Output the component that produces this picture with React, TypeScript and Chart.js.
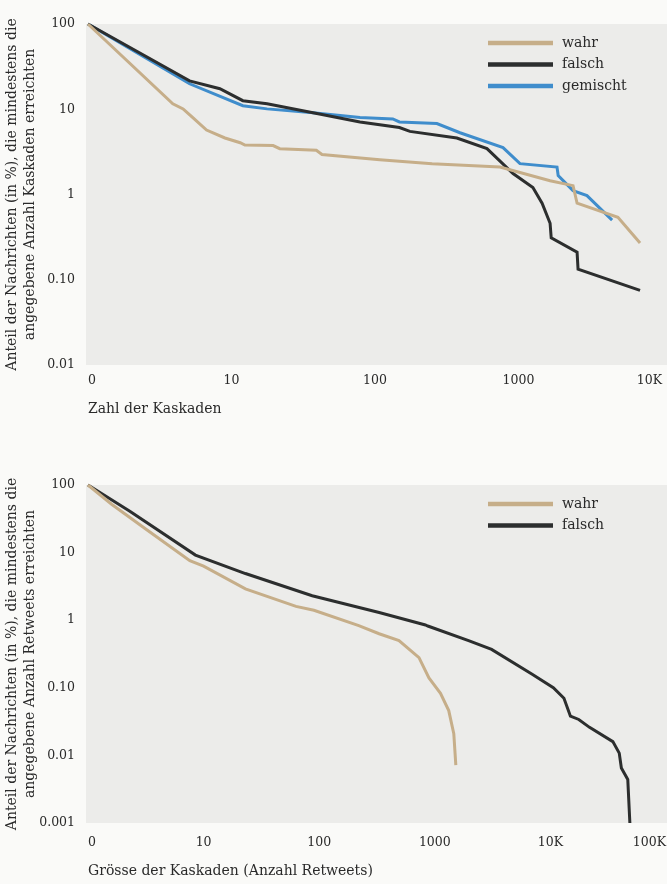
import React, { useEffect, useRef } from "react";
import { Chart, registerables } from "chart.js";

Chart.register(...registerables);

// ---------- Chart 1: Zahl der Kaskaden ----------
const xTicks1 = [1, 10, 100, 1000, 10000];
const xLabels1 = ["0", "10", "100", "1000", "10K"];
const yTicks1 = [100, 10, 1, 0.1, 0.01];
const yLabels1 = ["100", "10", "1", "0.10", "0.01"];

const wahr1X = [1, 3.9, 4.6, 5.4, 6.7, 9, 11.5, 12.4, 19.5, 21.7, 39, 42.7, 108, 250, 743, 1660, 2400, 2560, 4930, 7030];
const wahr1Y = [100, 11.6, 10.1, 7.9, 5.7, 4.6, 4.05, 3.8, 3.75, 3.45, 3.3, 2.95, 2.55, 2.3, 2.1, 1.45, 1.27, 0.79, 0.54, 0.27];

const falsch1X = [1, 5.1, 8.3, 12, 17.7, 37, 78.6, 148, 175, 372, 603, 916, 1260, 1460, 1660, 1690, 2560, 2600, 7030];
const falsch1Y = [100, 21.5, 17.4, 12.6, 11.6, 9.1, 7.1, 6.1, 5.5, 4.6, 3.45, 1.76, 1.21, 0.79, 0.46, 0.31, 0.21, 0.133, 0.075];

const gemischt1X = [1, 5.1, 12, 17.7, 37, 78.6, 133, 148, 270, 391, 780, 1024, 1855, 1890, 2400, 3000, 4490];
const gemischt1Y = [100, 19.9, 11, 10.1, 9.1, 8.0, 7.7, 7.1, 6.8, 5.3, 3.55, 2.3, 2.1, 1.67, 1.11, 0.97, 0.5];

// ---------- Chart 2: Grösse der Kaskaden ----------
const xTicks2 = [1, 10, 100, 1000, 10000, 100000];
const xLabels2 = ["0", "10", "100", "1000", "10K", "100K"];
const yTicks2 = [100, 10, 1, 0.1, 0.01, 0.001];
const yLabels2 = ["100", "10", "1", "0.10", "0.01", "0.001"];

const wahr2X = [1, 1.6, 3.2, 7.6, 10, 23, 63, 90, 220, 330, 490, 730, 890, 1120, 1320, 1460, 1520];
const wahr2Y = [100, 52, 22, 7.6, 6.3, 2.9, 1.6, 1.4, 0.83, 0.63, 0.5, 0.28, 0.14, 0.083, 0.046, 0.021, 0.0072];

const falsch2X = [1, 2.3, 8.5, 23, 87, 330, 830, 870, 1960, 3100, 6900, 10600, 13100, 14900, 17600, 21800, 34700, 39400, 41100, 46700, 48700];
const falsch2Y = [100, 41, 9.2, 4.9, 2.3, 1.3, 0.85, 0.82, 0.5, 0.37, 0.16, 0.1, 0.07, 0.038, 0.034, 0.026, 0.016, 0.0108, 0.0065, 0.0044, 0.001];

const seriesNames = ["wahr", "falsch", "gemischt"];
const seriesColors = ["#c6ae89", "#2c2e2e", "#3f8dcc"];

const yTitle1 = ["Anteil der Nachrichten (in %), die mindestens die", "angegebene Anzahl Kaskaden erreichten"];
const yTitle2 = ["Anteil der Nachrichten (in %), die mindestens die", "angegebene Anzahl Retweets erreichten"];
const xTitle1 = "Zahl der Kaskaden";
const xTitle2 = "Grösse der Kaskaden (Anzahl Retweets)";

const FONT = "'DejaVu Serif', serif";
const TEXT = "#2a2a2a";

const toPts = (xs: number[], ys: number[]) => xs.map((x, i) => ({ x, y: ys[i] }));

const bgPlugin = {
  id: "bgPlugin",
  beforeDraw(chart: any) {
    const { ctx, chartArea, width, height } = chart;
    ctx.save();
    ctx.fillStyle = "#fafaf8";
    ctx.fillRect(0, 0, width, height);
    ctx.fillStyle = "#ececea";
    ctx.fillRect(chartArea.left - 2, chartArea.top, width - chartArea.left + 2, chartArea.bottom - chartArea.top);
    ctx.restore();
  },
};

const legendPlugin = {
  id: "legendPlugin",
  afterDraw(chart: any) {
    const { ctx, chartArea } = chart;
    ctx.save();
    chart.data.datasets.forEach((ds: any, i: number) => {
      const y = chartArea.top + 19 + i * 21.5;
      ctx.strokeStyle = ds.borderColor;
      ctx.lineWidth = 4.5;
      ctx.beginPath();
      ctx.moveTo(488, y);
      ctx.lineTo(553, y);
      ctx.stroke();
      ctx.fillStyle = TEXT;
      ctx.font = `14px ${FONT}`;
      ctx.textBaseline = "middle";
      ctx.textAlign = "left";
      ctx.fillText(ds.label, 562, y);
    });
    ctx.restore();
  },
};

type Cfg = {
  width: number;
  height: number;
  top: number;
  padTop: number;
  padRight: number;
  xHeight: number;
  xTickPad: number;
  xTitlePad: number;
  xMax: number;
  xTicks: number[];
  xLabels: string[];
  yMin: number;
  yTicks: number[];
  yLabels: string[];
  yTitle: string[];
  xTitle: string;
  series: { name: string; color: string; x: number[]; y: number[] }[];
};

function LogChart({ cfg }: { cfg: Cfg }) {
  const ref = useRef<HTMLCanvasElement>(null);
  useEffect(() => {
    if (!ref.current) return;
    const chart = new Chart(ref.current, {
      type: "line",
      data: {
        datasets: cfg.series.map((s) => ({
          label: s.name,
          data: toPts(s.x, s.y),
          borderColor: s.color,
          backgroundColor: s.color,
          borderWidth: 3,
          pointRadius: 0,
          tension: 0,
          clip: 6,
        })),
      },
      options: {
        animation: false,
        responsive: false,
        devicePixelRatio: 1,
        layout: { padding: { top: cfg.padTop, right: cfg.padRight, left: 0, bottom: 0 } },
        plugins: { legend: { display: false }, tooltip: { enabled: false } },
        scales: {
          x: {
            type: "logarithmic",
            min: 1,
            max: cfg.xMax,
            grid: { display: false, drawTicks: false },
            border: { display: false },
            afterBuildTicks: (scale: any) => {
              scale.ticks = cfg.xTicks.map((v) => ({ value: v }));
            },
            afterFit: (scale: any) => {
              scale.height = cfg.xHeight;
              scale.paddingLeft = 0;
              scale.paddingRight = 0;
            },
            ticks: {
              autoSkip: false,
              maxRotation: 0,
              align: "inner",
              padding: cfg.xTickPad,
              color: TEXT,
              font: { family: FONT, size: 12.5 },
              callback: (_v: any, i: number) => cfg.xLabels[i],
            },
            title: {
              display: true,
              text: cfg.xTitle,
              align: "start",
              color: TEXT,
              font: { family: FONT, size: 14, lineHeight: 1.2 },
              padding: { top: 0, bottom: cfg.xTitlePad },
            },
          },
          y: {
            type: "logarithmic",
            min: cfg.yMin,
            max: 100,
            grid: { display: false, drawTicks: false },
            border: { display: false },
            afterBuildTicks: (scale: any) => {
              scale.ticks = cfg.yTicks.map((v) => ({ value: v }));
            },
            afterFit: (scale: any) => {
              scale.width = 88;
            },
            ticks: {
              autoSkip: false,
              padding: 13,
              color: TEXT,
              font: { family: FONT, size: 12.5 },
              callback: (_v: any, i: number) => cfg.yLabels[i],
            },
            title: {
              display: true,
              text: cfg.yTitle,
              color: TEXT,
              font: { family: FONT, size: 14, lineHeight: 1.3 },
              padding: { top: 3, bottom: 0 },
            },
          },
        },
      } as any,
      plugins: [bgPlugin, legendPlugin],
    });
    return () => chart.destroy();
  }, [cfg]);
  return (
    <canvas
      ref={ref}
      width={cfg.width}
      height={cfg.height}
      style={{ position: "absolute", left: 0, top: cfg.top, width: cfg.width, height: cfg.height }}
    />
  );
}

const cfg1: Cfg = {
  width: 667,
  height: 432,
  top: 0,
  padTop: 24,
  padRight: 5,
  xHeight: 67,
  xTickPad: 8,
  xTitlePad: 14,
  xMax: 10000,
  xTicks: xTicks1,
  xLabels: xLabels1,
  yMin: 0.01,
  yTicks: yTicks1,
  yLabels: yLabels1,
  yTitle: yTitle1,
  xTitle: xTitle1,
  series: [
    { name: seriesNames[0], color: seriesColors[0], x: wahr1X, y: wahr1Y },
    { name: seriesNames[1], color: seriesColors[1], x: falsch1X, y: falsch1Y },
    { name: seriesNames[2], color: seriesColors[2], x: gemischt1X, y: gemischt1Y },
  ],
};

const cfg2: Cfg = {
  width: 667,
  height: 452,
  top: 432,
  padTop: 53,
  padRight: 1,
  xHeight: 61,
  xTickPad: 12,
  xTitlePad: 4,
  xMax: 100000,
  xTicks: xTicks2,
  xLabels: xLabels2,
  yMin: 0.001,
  yTicks: yTicks2,
  yLabels: yLabels2,
  yTitle: yTitle2,
  xTitle: xTitle2,
  series: [
    { name: seriesNames[0], color: seriesColors[0], x: wahr2X, y: wahr2Y },
    { name: seriesNames[1], color: seriesColors[1], x: falsch2X, y: falsch2Y },
  ],
};

export default function App() {
  return (
    <div style={{ position: "fixed", left: 0, top: 0, width: 667, height: 884, background: "#fafaf8", overflow: "hidden" }}>
      <LogChart cfg={cfg1} />
      <LogChart cfg={cfg2} />
    </div>
  );
}
